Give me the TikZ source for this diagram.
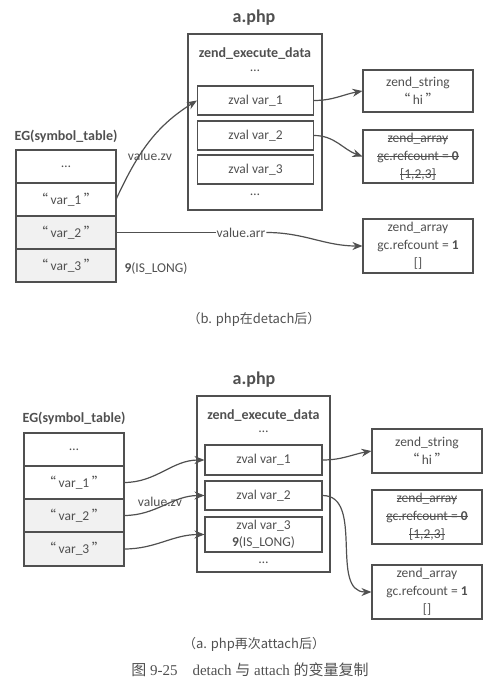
\documentclass[tikz,border=0pt]{standalone}
\usepackage{fontspec}
\setmainfont{Carlito}
\newfontfamily\cjk{Noto Sans CJK SC}
\newfontfamily\capserif{Liberation Serif}
\usetikzlibrary{arrows.meta}
\definecolor{inkgray}{HTML}{505050}
\definecolor{rowgray}{HTML}{F1F1F1}
\newcommand{\qt}[1]{{\cjk “}\hspace{2.5pt}#1\hspace{2.5pt}{\cjk ”}}
\newsavebox{\strkbox}
\newcommand{\strk}[1]{\sbox{\strkbox}{#1}\rlap{\usebox{\strkbox}}\rule[0.3em]{\wd\strkbox}{0.7pt}}

\begin{document}
\begin{tikzpicture}[x=1pt, y=-1pt,
  every node/.style={font=\fontsize{13.5}{18}\selectfont, text=inkgray},
  box/.style={draw=inkgray, line width=1.1pt, inner sep=0pt, align=center},
  cell/.style={box, minimum width=100, minimum height=33, outer sep=0pt},
  zvbox/.style={box, minimum width=116, minimum height=29},
  rbox/.style={box, minimum width=110},
  heading/.style={font=\fontsize{14}{16}\selectfont\bfseries},
  filetitle/.style={font=\fontsize{18}{20}\selectfont\bfseries},
  ptr/.style={draw=inkgray, line width=1.2pt, -{Stealth[length=10pt,width=8pt]}}]
  \useasboundingbox (0,0) rectangle (497,693);

  % b.php detached: a.php frame
  \node[filetitle] (titleTop) at (254,18) {a.php};
  \node[box, minimum width=134, minimum height=176] (frameTop) at (255,122) {};
  \node[heading] (execTop) at (255,54) {zend\_execute\_data};
  \node (dotsTopA) at (255,71) {\ldots};
  \node[zvbox] (zvTopA) at (255.5,100.5) {zval var\_1};
  \node[zvbox] (zvTopB) at (255.5,135.5) {zval var\_2};
  \node[zvbox] (zvTopC) at (255.5,169.5) {zval var\_3};
  \node (dotsTopB) at (255,195) {\ldots};

  % symbol table
  \node[heading] (egTop) at (66,136) {EG(symbol\_table)};
  \node[cell] (symTopA) at (66,166.5) {\ldots};
  \node[cell] (symTopB) at (66,199.5) {\qt{var\_1}};
  \node[cell, fill=rowgray] (symTopC) at (66,232.5) {\qt{var\_2}};
  \node[cell, fill=rowgray] (symTopD) at (66,265.5) {\qt{var\_3}};
  \node (zvLblTop) at (150,156) {value.zv};
  \node (longTop) at (156,268) {\textbf{9}(IS\_LONG)};

  % values
  \node[rbox, minimum height=42] (strTop) at (418,91) {zend\_string\\\qt{hi}};
  \node[rbox, minimum height=53] (oldTop) at (418,156.5) {\strk{zend\_array}\\\strk{gc.refcount = \textbf{0}}\\\strk{[1,2,3]}};
  \node[rbox, minimum height=54] (arrTop) at (418,246) {zend\_array\\gc.refcount = \textbf{1}\\{[]}};
  \node[inner sep=1pt] (arrLbl) at (241,232.5) {value.arr};

  \draw[ptr] (symTopB.east) to[out=65,in=212] (zvTopA.west);
  \draw[draw=inkgray, line width=1.2pt] (symTopC.east) -- (arrLbl.west);
  \draw[ptr] (arrLbl.east) to[out=0,in=180] (arrTop.west);
  \draw[ptr] (zvTopA.east) to[out=0,in=190] (strTop.west);
  \draw[ptr] (zvTopB.east) to[out=0,in=160] (oldTop.west);

  \node[font=\cjk\fontsize{13}{15}\selectfont] (capTop) at (254,319) {（b. php在detach后）};

  % a.php attached again
  \node[filetitle] (titleBot) at (254,380) {a.php};
  \node[box, minimum width=133, minimum height=176] (frameBot) at (263.5,484) {};
  \node[heading] (execBot) at (263.5,416) {zend\_execute\_data};
  \node (dotsBotA) at (263.5,432) {\ldots};
  \node[zvbox, minimum width=117, minimum height=30] (zvBotA) at (263.5,460) {zval var\_1};
  \node[zvbox, minimum width=117] (zvBotB) at (263.5,495.5) {zval var\_2};
  \node[zvbox, minimum width=117, minimum height=35, align=center, font=\fontsize{13.5}{17}\selectfont] (zvBotC) at (263.5,534.5) {zval var\_3\\\textbf{9}(IS\_LONG)};
  \node (dotsBotB) at (263.5,563) {\ldots};

  \node[heading] (egBot) at (74,418) {EG(symbol\_table)};
  \node[cell] (symBotA) at (74,449.5) {\ldots};
  \node[cell] (symBotB) at (74,482.5) {\qt{var\_1}};
  \node[cell, fill=rowgray] (symBotC) at (74,515.5) {\qt{var\_2}};
  \node[cell, fill=rowgray, minimum height=34] (symBotD) at (74,549) {\qt{var\_3}};

  \node[rbox, minimum height=44] (strBot) at (427,451) {zend\_string\\\qt{hi}};
  \node[rbox, minimum height=54] (oldBot) at (427,517) {\strk{zend\_array}\\\strk{gc.refcount = \textbf{0}}\\\strk{[1,2,3]}};
  \node[rbox, minimum height=54] (arrBot) at (427,592) {zend\_array\\gc.refcount = \textbf{1}\\{[]}};

  \draw[ptr] (symBotB.east) to[out=0,in=180] (zvBotA.west);
  \draw[ptr] (symBotC.east) to[out=0,in=180] (zvBotB.west);
  \draw[ptr] (symBotD.east) to[out=0,in=180] (zvBotC.west);
  \node (zvLblBot) at (160,502) {value.zv};
  \draw[ptr] (zvBotA.east) to[out=0,in=190] (strBot.west);
  \draw[ptr] (zvBotB.east) to[out=0,in=180] (arrBot.west);

  \node[font=\cjk\fontsize{13}{15}\selectfont] (capBot) at (254,644) {（a. php再次attach后）};
  \node[font=\capserif\fontsize{15}{17}\selectfont] (figCap) at (250,670) {{\cjk 图} 9-25\quad detach {\cjk 与} attach {\cjk 的变量复制}};
\end{tikzpicture}
\end{document}
